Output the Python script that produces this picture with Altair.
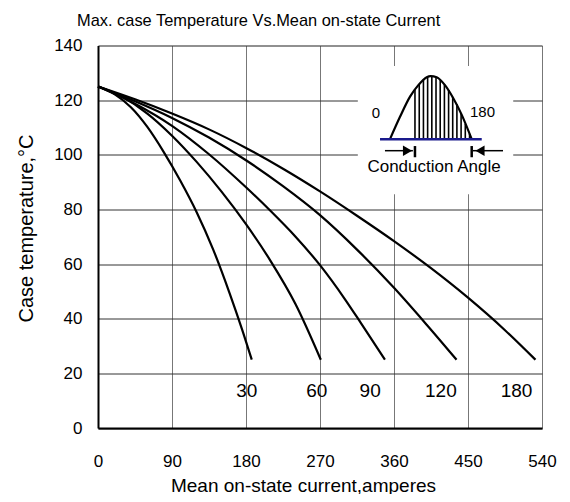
import altair as alt
import pandas as pd

FONT = "Liberation Sans"

# axis ticks
x_ticks = [0, 90, 180, 270, 360, 450, 540]
y_ticks = [0, 20, 40, 60, 80, 100, 120, 140]

# curves (conduction angle in degrees): current (A) vs case temperature (C)
c30_x = [0, 20, 40, 60, 80, 100, 120, 140, 160, 175, 187]
c30_t = [125, 122.2, 117.4, 110.2, 101.0, 90.6, 79.0, 65.4, 49.4, 36.3, 25]
c60_x = [0, 30, 60, 90, 120, 150, 180, 210, 240, 271]
c60_t = [125, 121.1, 115.1, 107.0, 97.4, 86.6, 74.6, 61.1, 45.5, 25]
c90_x = [0, 45, 90, 135, 180, 210, 240, 270, 300, 320, 349]
c90_t = [125, 118.7, 110.6, 100.2, 88.1, 79.4, 70.1, 59.6, 47.3, 38.3, 25]
c120_x = [0, 45, 90, 135, 180, 225, 270, 315, 360, 400, 436]
c120_t = [125, 119.6, 113.5, 106.3, 98.0, 88.5, 77.9, 65.3, 51.3, 37.7, 25]
c180_x = [0, 45, 90, 135, 180, 225, 270, 315, 360, 405, 450, 495, 532]
c180_t = [125, 120.3, 115.1, 109.3, 102.5, 94.9, 86.6, 77.7, 68.4, 58.5, 47.7, 35.8, 25]

# curve labels
lab_text = ["30", "60", "90", "120", "180"]
lab_x = [181, 266, 331, 417, 509]
lab_t = [13.6, 13.6, 13.6, 13.6, 13.6]

# inset (in data units)
box_x = [316]; box_x2 = [505]; box_t = [85.6]; box_t2 = [132.5]
base_x = [343]; base_x2 = [466.7]; base_t = [105.7]
hump_x = [355.1, 367.3, 379.5, 389.6, 399.8, 404.6, 411.9, 422.0, 432.1, 442.4, 454.5]
hump_t = [105.7, 113.9, 121.3, 125.5, 128.4, 128.8, 128.4, 125.5, 120.7, 114.6, 105.7]
hatch_x = [385.5, 390.7, 395.8, 400.9, 406.0, 411.1, 416.2, 421.3, 426.4, 431.4, 436.5, 441.6, 446.7, 451.9]
hatch_t = [123.9, 125.9, 127.6, 128.5, 128.8, 128.5, 127.6, 125.7, 123.7, 121.2, 118.6, 115.0, 111.3, 107.7]
arrow_line_x = [349, 456]; arrow_line_x2 = [383, 492.6]; arrow_line_t = [101.5, 101.5]
bar_x = [385.5, 454.5]; bar_t = [99.1, 99.1]; bar_t2 = [103.2, 103.2]
head_x = [376.4]; head_t = [101.5]
head2_x = [464.6]; head2_t = [101.5]
inset_text = ["0", "180"]; inset_text_x = [338, 452.4]; inset_text_t = [115.3, 115.8]
cond_text = ["Conduction Angle"]; cond_x = [408.7]; cond_t = [95.4]

xs = alt.Scale(domain=[0, 540], nice=False, zero=False)
ys = alt.Scale(domain=[0, 140], nice=False, zero=False)

x_axis = alt.Axis(values=x_ticks, title="Mean on-state current,amperes", grid=True,
                  gridColor="#777", gridWidth=1, domainColor="black", domainWidth=2,
                  ticks=False, tickSize=0, labelFontSize=17, labelPadding=33,
                  labelBaseline="middle", labelFont=FONT, labelColor="black",
                  labelFlush=False, titleFont=FONT, titleFontSize=19, titleFontWeight="normal",
                  titleColor="black", titleX=205, titleY=57, titleBaseline="middle",
                  titleAlign="center")
y_axis = alt.Axis(values=y_ticks, title="Case temperature,°C", grid=True,
                  gridColor="#333", gridWidth=1, domainColor="black", domainWidth=2,
                  ticks=False, tickSize=0, labelFontSize=17, labelPadding=16,
                  labelFont=FONT, labelColor="black", labelFlush=False,
                  titleFont=FONT, titleFontSize=20, titleFontWeight="normal",
                  titleColor="black", titleX=-72, titleY=182.5, titleAngle=270,
                  titleAlign="center", titleBaseline="middle")


def X(f):
    return alt.X(f, type="quantitative", scale=xs, axis=x_axis)


def Y(f):
    return alt.Y(f, type="quantitative", scale=ys, axis=y_axis)


rows = []
for name, cx, ct in [("30", c30_x, c30_t), ("60", c60_x, c60_t), ("90", c90_x, c90_t),
                     ("120", c120_x, c120_t), ("180", c180_x, c180_t)]:
    for a, b in zip(cx, ct):
        rows.append({"series": name, "x": a, "t": b})
curves_df = pd.DataFrame(rows)

box = alt.Chart(pd.DataFrame({"x": box_x, "x2": box_x2, "t": box_t, "t2": box_t2})).mark_rect(
    color="white", opacity=1).encode(x=X("x"), x2="x2", y=Y("t"), y2="t2")

curves = alt.Chart(curves_df).mark_line(color="black", strokeWidth=2.2, interpolate="monotone").encode(
    x=X("x"), y=Y("t"), detail="series:N")

labels = alt.Chart(pd.DataFrame({"x": lab_x, "t": lab_t, "s": lab_text})).mark_text(
    font=FONT, fontSize=19, color="black", align="center", baseline="middle").encode(
    x=X("x"), y=Y("t"), text="s:N")

hatch = alt.Chart(pd.DataFrame({"x": hatch_x, "t": hatch_t, "b": [base_t[0]] * len(hatch_x)})).mark_rule(
    color="black", strokeWidth=1.6).encode(x=X("x"), y=Y("b"), y2="t")

hump = alt.Chart(pd.DataFrame({"x": hump_x, "t": hump_t})).mark_line(
    color="black", strokeWidth=2.2, interpolate="monotone").encode(x=X("x"), y=Y("t"))

base = alt.Chart(pd.DataFrame({"x": base_x, "x2": base_x2, "t": base_t})).mark_rule(
    color="#1a1a8c", strokeWidth=2.5).encode(x=X("x"), x2="x2", y=Y("t"))

arrow_lines = alt.Chart(pd.DataFrame({"x": arrow_line_x, "x2": arrow_line_x2, "t": arrow_line_t})).mark_rule(
    color="black", strokeWidth=1.5).encode(x=X("x"), x2="x2", y=Y("t"))

bars = alt.Chart(pd.DataFrame({"x": bar_x, "t": bar_t, "t2": bar_t2})).mark_rule(
    color="black", strokeWidth=2.5).encode(x=X("x"), y=Y("t"), y2="t2")

head_r = alt.Chart(pd.DataFrame({"x": head_x, "t": head_t})).mark_point(
    shape="triangle-right", filled=True, size=110, color="black", opacity=1).encode(x=X("x"), y=Y("t"))
head_l = alt.Chart(pd.DataFrame({"x": head2_x, "t": head2_t})).mark_point(
    shape="triangle-left", filled=True, size=110, color="black", opacity=1).encode(x=X("x"), y=Y("t"))

it0 = alt.Chart(pd.DataFrame({"x": inset_text_x[:1], "t": inset_text_t[:1], "s": inset_text[:1]})).mark_text(
    font=FONT, fontSize=15, color="black", align="center", baseline="middle").encode(
    x=X("x"), y=Y("t"), text="s:N")
it180 = alt.Chart(pd.DataFrame({"x": inset_text_x[1:], "t": inset_text_t[1:], "s": inset_text[1:]})).mark_text(
    font=FONT, fontSize=15, color="black", align="left", baseline="middle").encode(
    x=X("x"), y=Y("t"), text="s:N")
cond = alt.Chart(pd.DataFrame({"x": cond_x, "t": cond_t, "s": cond_text})).mark_text(
    font=FONT, fontSize=17, color="black", align="center", baseline="middle").encode(
    x=X("x"), y=Y("t"), text="s:N")

chart = alt.layer(curves, box, labels, hatch, hump, base, arrow_lines, bars, head_r, head_l,
                  it0, it180, cond).properties(
    width=444, height=382.5,
    autosize="none",
    padding={"left": 90, "top": 37.5, "right": 20, "bottom": 66},
    title=alt.TitleParams(text="Max. case Temperature Vs.Mean on-state Current", anchor="start",
                          frame="group", dx=-21, offset=7, fontSize=16.4,
                          fontWeight="normal", font=FONT, color="black"),
).configure_view(stroke="#777", strokeWidth=2).configure(background="white")

chart.save("out.html", embed_options={"renderer": "svg", "actions": False})
